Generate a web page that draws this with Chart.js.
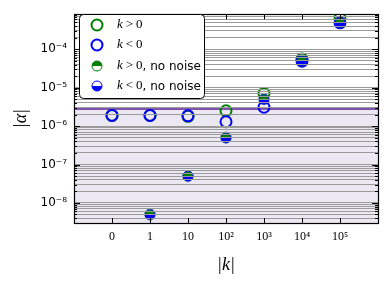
<!DOCTYPE html>
<html><head><meta charset="utf-8">
<script src="https://cdn.jsdelivr.net/npm/chart.js@4.4.0/dist/chart.umd.min.js"></script>
<style>html,body{margin:0;padding:0;background:#fff}#c{display:block}</style>
</head><body>
<canvas id="c" width="388" height="286"></canvas>
<script>
// ---- data ----
const xPositions = [0, 1, 2, 3, 4, 5, 6];
const xTickLabels = ['0', '1', '10', '10²', '10³', '10⁴', '10⁵'];
const alphaPos = [1.9e-6, 1.9e-6, 1.8e-6, 2.5e-6, 7.1e-6, 5.6e-5, 6.5e-4];
const alphaNeg = [1.9e-6, 1.9e-6, 1.85e-6, 1.3e-6, 3.1e-6, 4.9e-5, 4.9e-4];
const alphaPosNoNoise = [null, 5e-9, 5e-8, 5e-7, 5e-6, 5e-5, 5e-4];
const alphaNegNoNoise = [null, 5e-9, 5e-8, 5e-7, 5e-6, 5e-5, 5e-4];
const thresholdX = [-1, 7];
const thresholdValue = 2.8e-6;
const yTickValues = [1e-8, 1e-7, 1e-6, 1e-5, 1e-4];
const yTickLabels = ['10⁻⁸', '10⁻⁷', '10⁻⁶', '10⁻⁵', '10⁻⁴'];
const seriesLabels = ['k>0', 'k<0', 'k>0, no noise', 'k<0, no noise'];

const GREEN = '#008000', BLUE = '#0000ff', PURPLE = '#5a1e96', FILL = '#ebe7f3', GRID = '#9a9a9a';
const Y_MIN = 3e-9, Y_MAX = 8.2e-4;

function halfMarker(color, half) {
  const s = 14, r = 5, c = document.createElement('canvas');
  c.width = s; c.height = s;
  const g = c.getContext('2d');
  const cx = s / 2, cy = s / 2;
  g.beginPath();
  if (half === 'top') g.arc(cx, cy, r, Math.PI, 2 * Math.PI); else g.arc(cx, cy, r, 0, Math.PI);
  g.closePath(); g.fillStyle = color; g.fill();
  g.beginPath(); g.arc(cx, cy, r, 0, 2 * Math.PI);
  g.strokeStyle = color; g.lineWidth = 1; g.stroke();
  return c;
}
const greenHalf = halfMarker(GREEN, 'top');
const blueHalf = halfMarker(BLUE, 'bottom');

const pts = arr => xPositions.map((x, i) => ({x, y: arr[i]})).filter(p => p.y !== null);

function allLogTicks(min, max) {
  const t = [];
  for (let e = Math.floor(Math.log10(min)); e <= Math.ceil(Math.log10(max)); e++) {
    for (let m = 1; m <= 9; m++) {
      const v = parseFloat((m * Math.pow(10, e)).toPrecision(3));
      if (v >= min && v <= max) t.push({value: v, major: m === 1});
    }
  }
  return t;
}

const framePlugin = {
  id: 'frame',
  afterDraw(chart) {
    const {ctx, chartArea: a} = chart;
    const ys = chart.scales.y, xs = chart.scales.x;
    ctx.save();
    ctx.strokeStyle = '#000'; ctx.lineWidth = 1;
    ctx.beginPath();
    allLogTicks(Y_MIN, Y_MAX).forEach(t => {
      const y = Math.round(ys.getPixelForValue(t.value)) + 0.5;
      const L = t.major ? 6 : 3;
      ctx.moveTo(a.left, y); ctx.lineTo(a.left + L, y);
      ctx.moveTo(a.right, y); ctx.lineTo(a.right - L, y);
    });
    xPositions.forEach(v => {
      const x = Math.round(xs.getPixelForValue(v)) + 0.5;
      ctx.moveTo(x, a.bottom); ctx.lineTo(x, a.bottom - 5);
      ctx.moveTo(x, a.top); ctx.lineTo(x, a.top + 5);
    });
    ctx.stroke();
    ctx.lineWidth = 1.2;
    ctx.strokeRect(Math.round(a.left) + 0.5, Math.round(a.top) + 0.5, Math.round(a.right - a.left), Math.round(a.bottom - a.top));

    // legend
    const lx = 79.5, ly = 14.5, lw = 125, lh = 84, rr = 4;
    ctx.beginPath();
    ctx.moveTo(lx + rr, ly); ctx.lineTo(lx + lw - rr, ly); ctx.quadraticCurveTo(lx + lw, ly, lx + lw, ly + rr);
    ctx.lineTo(lx + lw, ly + lh - rr); ctx.quadraticCurveTo(lx + lw, ly + lh, lx + lw - rr, ly + lh);
    ctx.lineTo(lx + rr, ly + lh); ctx.quadraticCurveTo(lx, ly + lh, lx, ly + lh - rr);
    ctx.lineTo(lx, ly + rr); ctx.quadraticCurveTo(lx, ly, lx + rr, ly);
    ctx.closePath();
    ctx.fillStyle = '#fff'; ctx.fill();
    ctx.lineWidth = 1; ctx.strokeStyle = '#000'; ctx.stroke();

    const rows = [25, 45, 66, 86];
    const mx = 97;
    ctx.lineWidth = 2;
    ctx.strokeStyle = GREEN; ctx.beginPath(); ctx.arc(mx, rows[0], 5.5, 0, 2 * Math.PI); ctx.stroke();
    ctx.strokeStyle = BLUE; ctx.beginPath(); ctx.arc(mx, rows[1], 5.5, 0, 2 * Math.PI); ctx.stroke();
    ctx.drawImage(greenHalf, mx - 7, rows[2] - 7);
    ctx.drawImage(blueHalf, mx - 7, rows[3] - 7);

    ctx.fillStyle = '#000'; ctx.textBaseline = 'middle'; ctx.textAlign = 'left';
    seriesLabels.forEach((lab, i) => {
      let x = 117; const y = rows[i];
      const k = lab[0], rel = lab[1], rest = lab.slice(3);
      ctx.font = 'italic 13px "Liberation Serif"';
      ctx.fillText(k, x, y); x += ctx.measureText(k).width + 3;
      ctx.font = '13px "Liberation Serif"';
      ctx.fillText(rel, x, y); x += ctx.measureText(rel).width + 3;
      ctx.fillText('0', x, y); x += ctx.measureText('0').width;
      if (rest) { ctx.font = '12px "DejaVu Sans"'; ctx.fillText(rest, x, y + 0.5); }
    });
    ctx.restore();
  }
};

new Chart(document.getElementById('c'), {
  type: 'scatter',
  data: {
    datasets: [
      {label: 'threshold', type: 'line', data: thresholdX.map(x => ({x, y: thresholdValue})),
       borderColor: PURPLE, borderWidth: 1.5, backgroundColor: FILL, fill: 'start', pointRadius: 0, order: 10},
      {label: seriesLabels[0], data: pts(alphaPos), pointStyle: 'circle', pointRadius: 5.5,
       borderColor: GREEN, borderWidth: 2, backgroundColor: 'rgba(0,0,0,0)', order: 4},
      {label: seriesLabels[1], data: pts(alphaNeg), pointStyle: 'circle', pointRadius: 5.5,
       borderColor: BLUE, borderWidth: 2, backgroundColor: 'rgba(0,0,0,0)', order: 3},
      {label: seriesLabels[2], data: pts(alphaPosNoNoise), pointStyle: greenHalf, order: 2},
      {label: seriesLabels[3], data: pts(alphaNegNoNoise), pointStyle: blueHalf, order: 1}
    ]
  },
  options: {
    responsive: false, animation: false, devicePixelRatio: 1,
    layout: {padding: {top: 9, right: 10, left: 0, bottom: 0}},
    plugins: {legend: {display: false}, tooltip: {enabled: false}},
    scales: {
      x: {
        type: 'linear', min: -1, max: 7,
        afterBuildTicks: s => { s.ticks = xPositions.map(v => ({value: v})); },
        afterFit: s => { s.height = 63; },
        grid: {display: false, drawTicks: false},
        border: {display: false},
        ticks: {autoSkip: false, maxRotation: 0, padding: 7, color: '#000',
          font: {family: '"Liberation Serif"', size: 12},
          callback: (v) => { const i = xPositions.indexOf(v); return i >= 0 ? xTickLabels[i] : ''; }},
        title: {display: true, text: '|k|', color: '#000', font: {family: '"Liberation Serif"', size: 18, style: 'italic'},
          padding: {top: 0, bottom: 10}}
      },
      y: {
        type: 'logarithmic', min: Y_MIN, max: Y_MAX, z: 1,
        afterBuildTicks: s => { s.ticks = allLogTicks(Y_MIN, Y_MAX); },
        afterFit: s => { s.width = 74; },
        grid: {color: GRID, lineWidth: 1, drawTicks: false, z: 1},
        border: {display: false},
        ticks: {autoSkip: false, padding: 7, color: '#000',
          font: {family: '"DejaVu Sans"', size: 12},
          callback: (v) => { const i = yTickValues.findIndex(t => Math.abs(t - v) / t < 1e-6); return i >= 0 ? yTickLabels[i] : ''; }},
        title: {display: true, text: '|α|', color: '#000', font: {family: '"Liberation Serif"', size: 18, style: 'italic'},
          padding: {top: 10, bottom: 0}}
      }
    }
  },
  plugins: [framePlugin]
});
</script>
</body></html>
